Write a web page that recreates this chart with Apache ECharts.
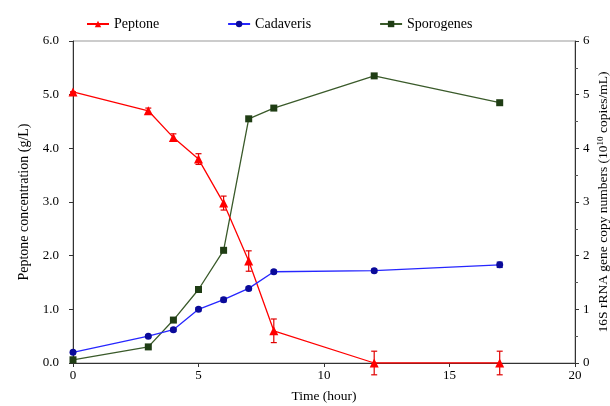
<!DOCTYPE html>
<html><head><meta charset="utf-8">
<script src="https://cdn.jsdelivr.net/npm/echarts@6/dist/echarts.min.js"></script>
<style>html,body{margin:0;padding:0;background:#fff}#c{width:610px;height:406px}</style>
</head><body><div id="c"></div>
<script>
const times = [0, 3, 4, 5, 6, 7, 8, 12, 17];
const peptone = [5.05, 4.70, 4.20, 3.80, 2.98, 1.90, 0.60, 0.00, 0.00];
const peptoneErr = [0.00, 0.05, 0.07, 0.10, 0.13, 0.19, 0.22, 0.22, 0.22];
const cadaveris = [0.20, 0.50, 0.62, 1.00, 1.18, 1.39, 1.70, 1.72, 1.83];
const cadaverisErr = [0.02, 0.02, 0.03, 0.03, 0.04, 0.03, 0.03, 0.03, 0.05];
const sporogenes = [0.06, 0.30, 0.80, 1.37, 2.10, 4.55, 4.75, 5.35, 4.85];
const xTicks = [0, 5, 10, 15, 20];
const yLeftTicks = [0, 1, 2, 3, 4, 5, 6];

const font = 'Liberation Serif';
function pairs(v){ return times.map((t,i)=>[t, v[i]]); }
function errData(v, e){ return times.map((t,i)=>[t, v[i]-e[i], v[i]+e[i]]); }
function errSeries(data, color, yIdx){
  return {
    type:'custom', yAxisIndex:yIdx, silent:true, z:1,
    data:data, encode:{x:0, y:[1,2]},
    renderItem:function(params, api){
      const x = api.value(0);
      const lo = api.coord([x, api.value(1)]);
      const hi = api.coord([x, api.value(2)]);
      const w = 3;
      const st = {stroke:color, lineWidth:1.2};
      return {type:'group', children:[
        {type:'line', shape:{x1:lo[0], y1:lo[1], x2:hi[0], y2:hi[1]}, style:st},
        {type:'line', shape:{x1:lo[0]-w, y1:lo[1], x2:lo[0]+w, y2:lo[1]}, style:st},
        {type:'line', shape:{x1:hi[0]-w, y1:hi[1], x2:hi[0]+w, y2:hi[1]}, style:st}
      ]};
    }
  };
}
const chart = echarts.init(document.getElementById('c'));
chart.setOption({
  animation:false,
  textStyle:{fontFamily:font},
  legend:{
    top:12, left:81, itemGap:68, itemWidth:22, itemHeight:8, padding:[5,0,5,5],
    textStyle:{fontFamily:font, fontSize:14, color:'#000'},
    data:['Peptone','Cadaveris','Sporogenes']
  },
  grid:{left:73, right:35, top:41, bottom:43, show:true, borderColor:'#999', borderWidth:1, outerBoundsMode:'none', containLabel:false},
  xAxis:{
    type:'value', min:xTicks[0], max:xTicks[xTicks.length-1], interval:5,
    name:'Time (hour)', nameLocation:'middle', nameGap:26,
    nameTextStyle:{fontFamily:font, fontSize:13.5, color:'#000'},
    axisLine:{lineStyle:{color:'#333'}},
    axisTick:{lineStyle:{color:'#333'}, length:4},
    axisLabel:{fontFamily:font, fontSize:13, color:'#000', margin:6},
    splitLine:{show:false}
  },
  yAxis:[{
    type:'value', min:yLeftTicks[0], max:yLeftTicks[yLeftTicks.length-1], interval:1,
    name:'Peptone concentration (g/L)', nameLocation:'middle', nameGap:42,
    nameTextStyle:{fontFamily:font, fontSize:14, color:'#000'},
    axisLine:{show:true, lineStyle:{color:'#333'}},
    axisTick:{show:true, lineStyle:{color:'#333'}, length:4},
    axisLabel:{fontFamily:font, fontSize:13, color:'#000', formatter:v=>v.toFixed(1), margin:14},
    splitLine:{show:false}
  },{
    type:'value', min:0, max:6, interval:1, position:'right',
    name:'{a|16S rRNA gene copy numbers (10}{s|10}{a| copies/mL)}', nameLocation:'middle', nameGap:21,
    nameMoveOverlap:false,
    nameTextStyle:{fontFamily:font, fontSize:13.5, color:'#000',
      rich:{a:{fontFamily:font, fontSize:13.5, color:'#000'}, s:{fontFamily:font, fontSize:9, color:'#000', verticalAlign:'top', padding:[0,0,5,0]}}},
    axisLine:{show:true, lineStyle:{color:'#333'}},
    axisTick:{show:true, lineStyle:{color:'#333'}, length:4},
    minorTick:{show:true, splitNumber:2, length:3, lineStyle:{color:'#555'}},
    axisLabel:{fontFamily:font, fontSize:13, color:'#000', margin:8},
    splitLine:{show:false}
  }],
  series:[
    errSeries(errData(peptone, peptoneErr), '#e00000', 0),
    errSeries(errData(cadaveris, cadaverisErr), '#1a1aa0', 1),
    {name:'Peptone', type:'line', yAxisIndex:0, data:pairs(peptone), z:3,
      symbol:'triangle', symbolSize:9, lineStyle:{color:'#ff0000', width:1.3},
      itemStyle:{color:'#ff0000'}},
    {name:'Cadaveris', type:'line', yAxisIndex:1, data:pairs(cadaveris), z:3,
      symbol:'circle', symbolSize:7, lineStyle:{color:'#2626ff', width:1.3},
      itemStyle:{color:'#0a0a9a'}},
    {name:'Sporogenes', type:'line', yAxisIndex:1, data:pairs(sporogenes), z:2,
      symbol:'rect', symbolSize:7, lineStyle:{color:'#3a5a2a', width:1.3},
      itemStyle:{color:'#1f3d14'}}
  ]
});
</script></body></html>
